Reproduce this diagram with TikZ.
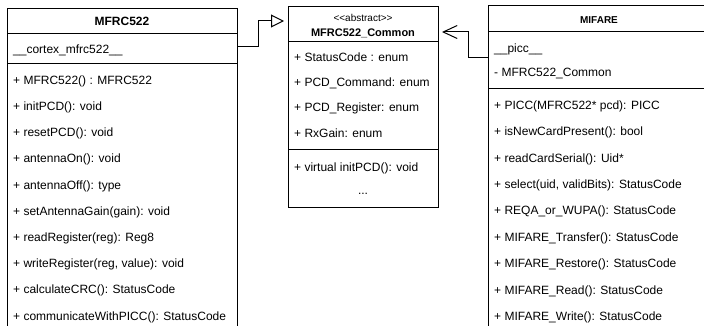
\documentclass[tikz,border=0pt]{standalone}
\usepackage{fontspec}
\setmainfont{Liberation Sans}
\usepackage{tikz}
\usetikzlibrary{arrows, arrows.meta, positioning}

\tikzset{
  classbox/.style={draw, line width=1pt, inner sep=0pt, outer sep=0pt, anchor=north west},
  memberrow/.style={anchor=west, inner sep=0pt, text height=8.6pt, text depth=0pt, font=\fontsize{12}{14}\selectfont},
  classtitle/.style={inner sep=0pt, text height=8.6pt, text depth=0pt, font=\bfseries\fontsize{12}{14}\selectfont},
  divider/.style={line width=1pt},
  generalize/.style={line width=1pt, -{Triangle[open, length=13pt, width=13pt, line width=1pt]}, shorten >=4pt},
  navigable/.style={line width=1pt, -{Straight Barb[length=14pt, width=13pt, line width=1pt]}, shorten >=4pt},
}

\begin{document}
\begin{tikzpicture}[x=1pt, y=-1pt]
		\useasboundingbox (0,0) rectangle (704,326);
		\clip (0,0) rectangle (704,326);

			%class boxes:
			\node[classbox, minimum width=230pt, minimum height=345pt] (mfrc) at (7,9) {};
			\node[classbox, minimum width=150pt, minimum height=200pt] (common) at (288,7) {};
			\node[classbox, minimum width=222pt, minimum height=345pt] (mifare) at (488,6) {};

			%dividers:
			\foreach \y in {34,64}
			\draw[divider] (mfrc.west |- 0,\y) -- (mfrc.east |- 0,\y);
			\foreach \y in {42,150}
			\draw[divider] (common.west |- 0,\y) -- (common.east |- 0,\y);
			\foreach \y in {32,89}
			\draw[divider] (mifare.west |- 0,\y) -- (mifare.east |- 0,\y);

			%MFRC522:
			\node[classtitle] (mfrctitle) at (122,21.5) {MFRC522};
			\node[memberrow] (mfrcattr) at (13,49) {\_\_cortex\_mfrc522\_\_};
			\foreach \txt [count=\i from 0] in {{+ MFRC522() : MFRC522}, {+ initPCD(): void}, {+ resetPCD(): void},
				{+ antennaOn(): void}, {+ antennaOff(): type}, {+ setAntennaGain(gain): void},
				{+ readRegister(reg): Reg8}, {+ writeRegister(reg, value): void},
				{+ calculateCRC(): StatusCode}, {+ communicateWithPICC(): StatusCode}}
			\node[memberrow] (mfrcop\i) at (13, 80+26.2*\i) {\txt};

			%MFRC522_Common:
			\node[inner sep=0pt, font=\fontsize{10}{12}\selectfont] (commonstereo) at (363,18)
				{\mbox{\textless}\mbox{\textless}abstract\mbox{\textgreater}\mbox{\textgreater}};
			\node[classtitle, font=\bfseries\fontsize{11}{13}\selectfont] (commontitle) at (363,32) {MFRC522\_Common};
			\foreach \txt [count=\i from 0] in {{+ StatusCode : enum}, {+ PCD\_Command: enum},
				{+ PCD\_Register: enum}, {+ RxGain: enum}}
			\node[memberrow] (commonattr\i) at (294, 57+25.3*\i) {\txt};
			\node[memberrow] (commonop) at (294,167) {+ virtual initPCD(): void};
			\node[inner sep=0pt, anchor=base, font=\fontsize{12}{14}\selectfont] (commonmore) at (363,194.5) {...};

			%MIFARE:
			\node[classtitle, font=\bfseries\fontsize{10}{12}\selectfont] (mifaretitle) at (599,19) {MIFARE};
			\node[memberrow] (mifareattr0) at (494,48) {\_\_picc\_\_};
			\node[memberrow] (mifareattr1) at (494,72) {- MFRC522\_Common};
			\foreach \txt [count=\i from 0] in {{+ PICC(MFRC522* pcd): PICC}, {+ isNewCardPresent(): bool},
				{+ readCardSerial(): Uid*}, {+ select(uid, validBits): StatusCode},
				{+ REQA\_or\_WUPA(): StatusCode}, {+ MIFARE\_Transfer(): StatusCode},
				{+ MIFARE\_Restore(): StatusCode}, {+ MIFARE\_Read(): StatusCode},
				{+ MIFARE\_Write(): StatusCode}}
			\node[memberrow] (mifareop\i) at (494, 105+26.4*\i) {\txt};

			%relations:
			\coordinate (genbend) at (258,21);
			\draw[generalize] (mfrc.east |- 0,47) -| (genbend) -- (common.west |- genbend);
			\coordinate (navbend) at (468,32);
			\draw[navigable] (mifare.west |- 0,58) -| (navbend) -- (common.east |- navbend);
	\end{tikzpicture}
\end{document}
